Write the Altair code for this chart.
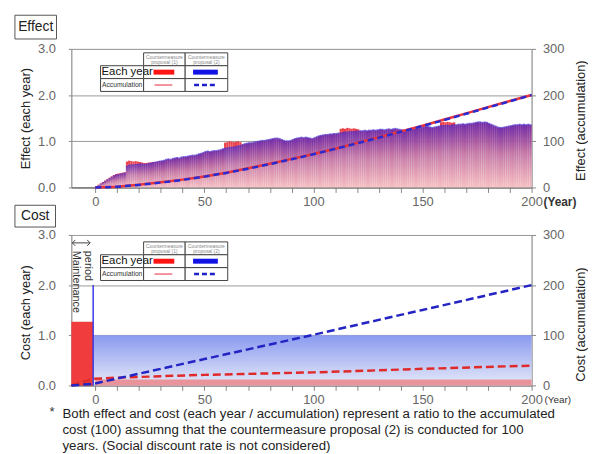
import altair as alt
import pandas as pd

# ---------------- data ----------------
# Effect, each year (year k drawn over [k-1, k])
effect_years = list(range(1, 201))
effect_p1 = [
    0.03, 0.06, 0.09, 0.12, 0.15, 0.18, 0.21, 0.24, 0.27, 0.29,
    0.30, 0.31, 0.32, 0.33, 0.56, 0.58, 0.57, 0.56, 0.57, 0.56,
    0.55, 0.54, 0.53, 0.53, 0.54, 0.54, 0.55, 0.55, 0.56, 0.57,
    0.57, 0.58, 0.60, 0.61, 0.60, 0.62, 0.63, 0.64, 0.63, 0.65,
    0.66, 0.66, 0.67, 0.68, 0.69, 0.69, 0.70, 0.72, 0.73, 0.75,
    0.77, 0.78, 0.77, 0.78, 0.79, 0.79, 0.80, 0.81, 0.83, 0.97,
    0.98, 1.00, 0.99, 0.98, 0.99, 1.00, 0.98, 0.93, 0.94, 0.95,
    0.96, 0.96, 0.97, 0.98, 0.99, 1.00, 1.01, 1.01, 1.02, 1.03,
    1.04, 1.05, 1.06, 1.06, 1.05, 1.03, 1.01, 1.00, 1.00, 1.01,
    1.03, 1.05, 1.06, 1.07, 1.08, 1.07, 1.08, 1.07, 1.06, 1.05,
    1.07, 1.09, 1.11, 1.12, 1.13, 1.14, 1.14, 1.15, 1.15, 1.16,
    1.16, 1.17, 1.27, 1.28, 1.27, 1.29, 1.28, 1.27, 1.28, 1.27,
    1.26, 1.22, 1.22, 1.23, 1.22, 1.23, 1.23, 1.24, 1.23, 1.24,
    1.25, 1.25, 1.24, 1.25, 1.26, 1.25, 1.26, 1.27, 1.26, 1.25,
    1.24, 1.23, 1.23, 1.24, 1.25, 1.26, 1.27, 1.28, 1.28, 1.29,
    1.31, 1.32, 1.31, 1.30, 1.29, 1.30, 1.31, 1.32, 1.41, 1.42,
    1.41, 1.42, 1.41, 1.40, 1.41, 1.35, 1.36, 1.36, 1.37, 1.36,
    1.37, 1.38, 1.38, 1.39, 1.40, 1.41, 1.41, 1.40, 1.41, 1.40,
    1.38, 1.36, 1.34, 1.32, 1.30, 1.29, 1.29, 1.30, 1.31, 1.32,
    1.33, 1.34, 1.35, 1.35, 1.36, 1.35, 1.36, 1.35, 1.36, 1.35,
]
effect_p2 = [
    0.02, 0.05, 0.08, 0.11, 0.14, 0.17, 0.20, 0.23, 0.26, 0.28,
    0.29, 0.30, 0.31, 0.32, 0.47, 0.49, 0.50, 0.50, 0.51, 0.51,
    0.52, 0.52, 0.51, 0.52, 0.53, 0.54, 0.55, 0.56, 0.57, 0.58,
    0.59, 0.60, 0.62, 0.63, 0.62, 0.64, 0.65, 0.66, 0.65, 0.67,
    0.68, 0.68, 0.69, 0.70, 0.71, 0.71, 0.72, 0.74, 0.75, 0.77,
    0.79, 0.80, 0.79, 0.80, 0.81, 0.81, 0.82, 0.83, 0.85, 0.86,
    0.87, 0.88, 0.88, 0.89, 0.90, 0.91, 0.92, 0.94, 0.96, 0.97,
    0.98, 0.98, 0.99, 1.00, 1.01, 1.02, 1.03, 1.03, 1.04, 1.05,
    1.06, 1.07, 1.08, 1.08, 1.07, 1.05, 1.03, 1.02, 1.02, 1.03,
    1.05, 1.07, 1.08, 1.09, 1.10, 1.09, 1.10, 1.09, 1.08, 1.07,
    1.09, 1.11, 1.13, 1.14, 1.15, 1.16, 1.16, 1.17, 1.17, 1.18,
    1.18, 1.19, 1.19, 1.20, 1.21, 1.21, 1.22, 1.22, 1.22, 1.23,
    1.23, 1.24, 1.24, 1.25, 1.24, 1.25, 1.25, 1.26, 1.25, 1.26,
    1.27, 1.27, 1.26, 1.27, 1.28, 1.27, 1.28, 1.29, 1.28, 1.27,
    1.26, 1.25, 1.25, 1.26, 1.27, 1.28, 1.29, 1.30, 1.30, 1.31,
    1.33, 1.34, 1.33, 1.32, 1.31, 1.32, 1.33, 1.34, 1.35, 1.35,
    1.35, 1.36, 1.35, 1.36, 1.37, 1.37, 1.38, 1.38, 1.39, 1.38,
    1.39, 1.40, 1.40, 1.41, 1.42, 1.43, 1.43, 1.42, 1.43, 1.42,
    1.40, 1.38, 1.36, 1.34, 1.32, 1.31, 1.31, 1.32, 1.33, 1.34,
    1.35, 1.36, 1.37, 1.37, 1.38, 1.37, 1.38, 1.37, 1.38, 1.37,
]
# Effect, accumulation
eff_acc_years = [0, 10, 20, 30, 40, 50, 60, 70, 80, 90, 100,
                 110, 120, 130, 140, 150, 160, 170, 180, 190, 200]
eff_acc_p1 = [0, 1.6, 5.9, 11.1, 17.0, 23.9, 31.8, 41.6, 51.4, 61.8, 72.6,
              83.8, 96.6, 109.0, 121.3, 133.6, 147.0, 160.5, 173.8, 187.1, 200.3]
eff_acc_p2 = [0, 1.5, 5.5, 10.5, 16.5, 23.5, 31.5, 40.5, 50.5, 61.0, 72.0,
              83.5, 95.5, 108.0, 120.5, 133.0, 146.0, 159.5, 173.0, 186.5, 200.0]

# Cost, each year (segments between year boundaries)
cost_p1_start = [-11, 0]
cost_p1_end = [-1, 200]
cost_p1_value = [1.27, 0.12]
cost_p1_phase = ["Maintenance period", "After"]
cost_p2_start = [-1]
cost_p2_end = [200]
cost_p2_value = [1.0]
cost_p2_initial_at = [-1]
cost_p2_initial_value = [2.0]
# Cost, accumulation
cost_acc_p1_years = [-11, -1, 10, 50, 100, 150, 200]
cost_acc_p1 = [0, 13.0, 15.5, 21.0, 26.0, 33.0, 39.5]
cost_acc_p2_years = [-11, -1, 50, 100, 150, 200]
cost_acc_p2 = [0, 3.0, 52.5, 101.0, 150.5, 200.0]

x_ticks = list(range(0, 201, 10))

# ---------------- styles ----------------
FONT = "Liberation Sans"
W = 465
H_TOP = 140
H_BOT = 152

xs = alt.Scale(domain=[-11, 200], nice=False, zero=False)
yl = alt.Scale(domain=[0, 3], nice=False)
yr = alt.Scale(domain=[0, 300], nice=False)

x_axis = alt.Axis(values=x_ticks, labelExpr="datum.value % 50 == 0 ? datum.label : ''",
                  tickSize=5, tickColor="#888", domainColor="#555", labelColor="#666",
                  labelFontSize=13, labelPadding=3, grid=False, title=None,
                  labelFlush=False, labelOverlap=False)


def left_axis(title, ty):
    return alt.Axis(values=[0, 1, 2, 3], format=".1f", grid=True, gridColor="#999",
                    tickSize=3, tickColor="#888", domainColor="#888", labelColor="#666",
                    labelFontSize=13, labelPadding=13, labelFlush=False,
                    title=title, titleX=-46, titleY=ty,
                    titleAngle=270, titleBaseline="middle", titleAlign="center",
                    titleFontSize=13, titleFontWeight="normal", titleColor="#222")


def right_axis(title, ty):
    return alt.Axis(values=[0, 100, 200, 300], format="d", grid=False, orient="right",
                    tickSize=4, tickColor="#888", domainColor="#888", labelColor="#666",
                    labelFontSize=13, labelPadding=7, labelFlush=False,
                    title=title, titleX=49, titleY=ty,
                    titleAngle=270, titleBaseline="middle", titleAlign="center",
                    titleFontSize=13, titleFontWeight="normal", titleColor="#222")


grad_red = alt.Gradient(gradient="linear", x1=0, x2=0, y1=0, y2=1, stops=[
    alt.GradientStop(color="#ea3a44", offset=0),
    alt.GradientStop(color="#ef8e96", offset=0.5),
    alt.GradientStop(color="#f5bfc3", offset=1)])
grad_blue = alt.Gradient(gradient="linear", x1=0, x2=0, y1=0, y2=1, stops=[
    alt.GradientStop(color="rgba(60,40,215,0.72)", offset=0),
    alt.GradientStop(color="rgba(100,90,225,0.30)", offset=0.45),
    alt.GradientStop(color="rgba(140,140,235,0.0)", offset=1)])
grad_cost_blue = alt.Gradient(gradient="linear", x1=0, x2=0, y1=0, y2=1, stops=[
    alt.GradientStop(color="#8a9af0", offset=0),
    alt.GradientStop(color="#e5e9f8", offset=1)])

dummy = pd.DataFrame({"d": [0]})


def box(x, x2, y, y2, fill="white", stroke="#444", sw=1):
    return alt.Chart(dummy).mark_rect(fill=fill, stroke=stroke, strokeWidth=sw).encode(
        x=alt.value(x), x2=alt.value(x2), y=alt.value(y), y2=alt.value(y2))


def filled(x, x2, y, y2, color):
    return alt.Chart(dummy).mark_rect(fill=color).encode(
        x=alt.value(x), x2=alt.value(x2), y=alt.value(y), y2=alt.value(y2))


def seg(x, x2, y, y2, color, width=1.0, dash=None):
    kw = dict(color=color, strokeWidth=width)
    if dash:
        kw["strokeDash"] = dash
    return alt.Chart(dummy).mark_rule(**kw).encode(
        x=alt.value(x), x2=alt.value(x2), y=alt.value(y), y2=alt.value(y2))


def label(x, y, s, size=12, color="#222", align="left", weight="normal", angle=0,
          baseline="middle"):
    return alt.Chart(dummy).mark_text(text=s, fontSize=size, color=color, align=align,
                                      baseline=baseline, fontWeight=weight, angle=angle,
                                      font=FONT).encode(x=alt.value(x), y=alt.value(y))


def legend_table(top):
    t = top
    layers = [
        box(73, 115, t, t + 13), box(115, 158, t, t + 13),
        box(29.5, 73, t + 13, t + 26), box(73, 115, t + 13, t + 26), box(115, 158, t + 13, t + 26),
        box(29.5, 73, t + 26, t + 39), box(73, 115, t + 26, t + 39), box(115, 158, t + 26, t + 39),
        label(94, t + 4, "Countermeasure", size=5, color="#888", align="center"),
        label(94, t + 9, "proposal (1)", size=5, color="#888", align="center"),
        label(136.5, t + 4, "Countermeasure", size=5, color="#888", align="center"),
        label(136.5, t + 9, "proposal (2)", size=5, color="#888", align="center"),
        label(30.5, t + 19.5, "Each year", size=11.5, color="#111"),
        label(31, t + 32.5, "Accumulation", size=6.8, color="#333"),
        filled(83, 104, t + 17, t + 22, "#ff1414"),
        filled(123, 148, t + 17, t + 22, "#1212e6"),
        seg(84, 102, t + 32.5, t + 32.5, "#f07080", 1.5),
        seg(124, 147, t + 32.5, t + 32.5, "#2020c8", 2.5, [5, 3]),
    ]
    return layers


# ---------------- top panel: Effect ----------------
eff_df = pd.DataFrame({"year": effect_years, "p1": effect_p1, "p2": effect_p2})
eff_base = alt.Chart(eff_df).transform_calculate(x0="datum.year - 1")
eff_red = eff_base.mark_rect(color=grad_red).encode(
    x=alt.X("x0:Q", scale=xs, axis=x_axis), x2="year:Q",
    y=alt.Y("p1:Q", scale=yl, axis=left_axis("Effect (each year)", H_TOP / 2)),
    y2=alt.datum(0))
eff_blue = eff_base.mark_rect(color=grad_blue).encode(
    x=alt.X("x0:Q", scale=xs, axis=x_axis), x2="year:Q",
    y=alt.Y("p2:Q", scale=yl, axis=left_axis("Effect (each year)", H_TOP / 2)),
    y2=alt.datum(0))

eacc_df = pd.DataFrame({"year": eff_acc_years, "p1": eff_acc_p1, "p2": eff_acc_p2})
eacc_red = alt.Chart(eacc_df).mark_line(color="#e8343c", strokeWidth=2.5).encode(
    x=alt.X("year:Q", scale=xs, axis=x_axis),
    y=alt.Y("p1:Q", scale=yr, axis=right_axis("Effect (accumulation)", H_TOP / 2 + 2)))
eacc_blue = alt.Chart(eacc_df).mark_line(color="#2a2ad2", strokeWidth=2.5,
                                         strokeDash=[6, 4]).encode(
    x=alt.X("year:Q", scale=xs, axis=x_axis),
    y=alt.Y("p2:Q", scale=yr, axis=right_axis("Effect (accumulation)", H_TOP / 2 + 2)))

top_decor = [
    box(-57, -15, -34, -10, stroke="#555"),
    label(-36, -22, "Effect", size=14, color="#222", align="center"),
    label(477, H_TOP + 15, "(Year)", size=12, color="#333", weight="bold"),
] + legend_table(4)

top = alt.layer(
    alt.layer(eff_red, eff_blue),
    alt.layer(eacc_red, eacc_blue),
    *top_decor,
).resolve_scale(y="independent").properties(width=W, height=H_TOP)

# ---------------- bottom panel: Cost ----------------
c1_df = pd.DataFrame({"start": cost_p1_start, "end": cost_p1_end,
                      "value": cost_p1_value, "phase": cost_p1_phase})
c2_df = pd.DataFrame({"start": cost_p2_start, "end": cost_p2_end, "value": cost_p2_value})
c2i_df = pd.DataFrame({"at": cost_p2_initial_at, "value": cost_p2_initial_value})

cost_blue = alt.Chart(c2_df).mark_rect(color=grad_cost_blue).encode(
    x=alt.X("start:Q", scale=xs, axis=x_axis), x2="end:Q",
    y=alt.Y("value:Q", scale=yl, axis=left_axis("Cost (each year)", 78)),
    y2=alt.datum(0))
cost_red = alt.Chart(c1_df).mark_rect().encode(
    x=alt.X("start:Q", scale=xs, axis=x_axis), x2="end:Q",
    y=alt.Y("value:Q", scale=yl, axis=left_axis("Cost (each year)", 78)),
    y2=alt.datum(0),
    color=alt.Color("phase:N", legend=None,
                    scale=alt.Scale(domain=["Maintenance period", "After"],
                                    range=["#f03c3c", "#e9939b"])))
cost_spike = alt.Chart(c2i_df).mark_rule(color="#3a3ae6", strokeWidth=1.5).encode(
    x=alt.X("at:Q", scale=xs, axis=x_axis),
    y=alt.Y("value:Q", scale=yl, axis=left_axis("Cost (each year)", 78)),
    y2=alt.datum(0))

ca1_df = pd.DataFrame({"year": cost_acc_p1_years, "v": cost_acc_p1})
ca2_df = pd.DataFrame({"year": cost_acc_p2_years, "v": cost_acc_p2})
cacc_red = alt.Chart(ca1_df).mark_line(color="#e02a2a", strokeWidth=2.5,
                                       strokeDash=[8, 4]).encode(
    x=alt.X("year:Q", scale=xs, axis=x_axis),
    y=alt.Y("v:Q", scale=yr, axis=right_axis("Cost (accumulation)", 90)))
cacc_blue = alt.Chart(ca2_df).mark_line(color="#2424c4", strokeWidth=2.5,
                                        strokeDash=[8, 4]).encode(
    x=alt.X("year:Q", scale=xs, axis=x_axis),
    y=alt.Y("v:Q", scale=yr, axis=right_axis("Cost (accumulation)", 90)))

FN = 13.4
bot_decor = [
    box(-57, -16, -30, -8, stroke="#555"),
    label(-36.5, -19, "Cost", size=14, color="#222", align="center"),
    label(478, H_BOT + 15, "(Year)", size=10, color="#333"),
    # maintenance period annotation
    seg(1, 19, 8, 8, "#444", 1),
    seg(1, 4, 8, 5, "#444", 1), seg(1, 4, 8, 11, "#444", 1),
    seg(19, 16, 8, 5, "#444", 1), seg(19, 16, 8, 11, "#444", 1),
    label(5, 16, "Maintenance", size=11, color="#333", angle=90),
    label(17, 16, "period", size=11, color="#333", angle=90),
    # footnote
    label(-22, 179, "*", size=FN, color="#333"),
    label(-9, 181, "Both effect and cost (each year / accumulation) represent a ratio to the accumulated",
          size=FN, color="#222"),
    label(-9, 197, "cost (100) assumng that the countermeasure proposal (2) is conducted for 100",
          size=FN, color="#222"),
    label(-9, 213, "years. (Social discount rate is not considered)", size=FN, color="#222"),
] + legend_table(7)

bottom = alt.layer(
    alt.layer(cost_blue, cost_red, cost_spike),
    alt.layer(cacc_red, cacc_blue),
    *bot_decor,
).resolve_scale(y="independent", color="independent").properties(width=W, height=H_BOT)

chart = alt.vconcat(top, bottom, spacing=48, bounds="flush").properties(
    padding={"left": 6, "top": 4, "right": 0, "bottom": 0}
).configure_view(strokeWidth=0).configure(font=FONT)

chart.save("out.html", embed_options={"renderer": "svg", "actions": False})
